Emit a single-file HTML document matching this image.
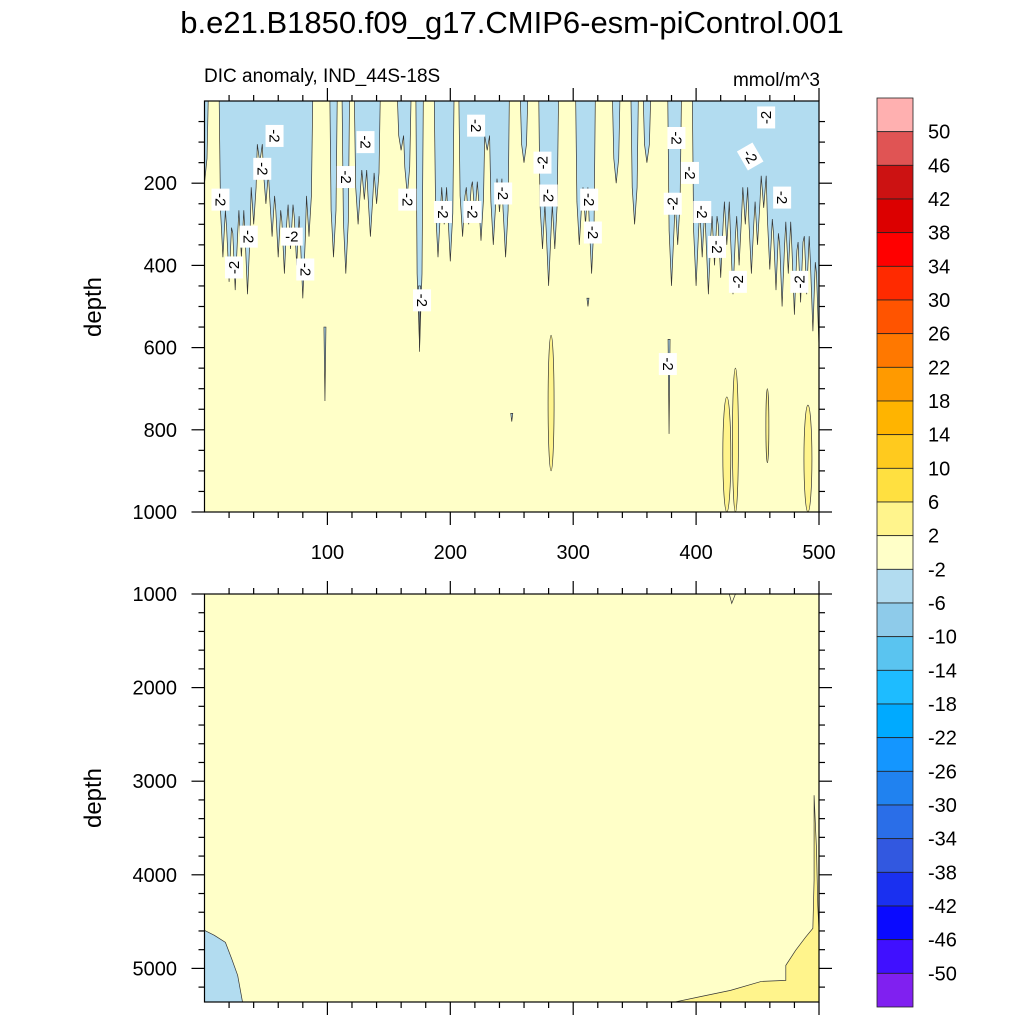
<!DOCTYPE html>
<html><head><meta charset="utf-8"><style>
body{margin:0;background:#fff;}
svg{display:block;font-family:"Liberation Sans",sans-serif;}
</style></head><body>
<svg id="s" width="1024" height="1024" viewBox="0 0 1024 1024" xmlns="http://www.w3.org/2000/svg">
<text x="512" y="33" font-size="31" text-anchor="middle">b.e21.B1850.f09_g17.CMIP6-esm-piControl.001</text>
<text x="204" y="82" font-size="19">DIC anomaly, IND_44S-18S</text>
<text x="820" y="86" font-size="19" text-anchor="end">mmol/m^3</text>
<text x="0" y="0" font-size="24" text-anchor="middle" transform="translate(101,307) rotate(-90)">depth</text>
<text x="0" y="0" font-size="24" text-anchor="middle" transform="translate(101,798) rotate(-90)">depth</text>
<g id="g"></g>
</svg>
<script>
// ---- data ----
const profU = [0,5,10,15,20,25,30,35,40,45,50,55,60,65,70,75,80,85,90,95,100,105,110,115,120,125,130,135,140,145,150,155,160,165,170,175,180,185,190,195,200,205,210,215,220,225,230,235,240,245,250,255,260,265,270,275,280,285,290,295,300,305,310,315,320,325,330,335,340,345,350,355,360,365,370,375,380,385,390,395,400,405,410,415,420,425,430,435,440,445,450,455,460,465,470,475,480,485,490,495,500];
const profDepth = [200,0,0,380,440,460,380,470,300,150,250,330,380,420,360,400,480,330,0,0,0,380,0,420,0,300,240,330,250,0,0,0,120,230,0,600,0,0,380,300,390,0,330,300,280,340,120,350,270,380,0,0,150,0,0,360,450,360,0,0,0,350,300,420,0,0,0,200,0,0,300,0,150,0,0,0,450,350,0,0,450,380,470,400,430,350,470,400,300,420,350,260,410,460,500,420,520,490,470,560,600];
const spikeU = [98,250,378,175,312];
const spikeTop = [550,760,580,450,480];
const spikeBot = [730,780,810,610,500];
const lensU = [282,425,432,458,491];
const lensTop = [570,720,650,700,740];
const lensBot = [900,1000,1000,880,1000];
const lensW = [3,4,3,1.5,4];
const labU = [13,47,57,36,71,24,82,115,131,165,194,177,218,221,243,275,280,313,316,384,395,381,405,417,434,444,457,470,484,377];
const labD = [240,165,85,330,330,405,410,185,100,240,270,485,270,60,225,150,230,240,320,90,175,250,270,355,440,135,40,235,440,640];
const labRot = [90,90,90,90,0,-90,90,90,90,90,90,90,90,90,90,-90,90,90,90,90,90,-90,90,90,-90,60,-90,90,-90,90];
const blU = [0,8,17,22,27,31];
const blD = [4594,4647,4722,4893,5075,5364];
const brU = [381,404,428,453,473,473,481,489,495,496,496,498,499,500];
const brD = [5364,5300,5235,5139,5128,4968,4807,4668,4572,4059,3150,3738,4326,4594];
const xTicks = [100,200,300,400,500];
const yTicksTop = [200,400,600,800,1000];
const yTicksBot = [1000,2000,3000,4000,5000];
const cbLabels = ["50","46","42","38","34","30","26","22","18","14","10","6","2","-2","-6","-10","-14","-18","-22","-26","-30","-34","-38","-42","-46","-50"];
const cbColors = ["#ffb0b0","#e05454","#cc1212","#dc0000","#ff0000","#ff2a00","#ff5400","#ff7800","#ff9a00","#ffb400","#ffca1e","#ffe040","#fff48c","#ffffc8","#b2dcf0","#8ecbea","#5ac4f0","#1ebcff","#00aaff","#1496ff","#2082f0","#2a6ee8","#3258e0","#1a30f0","#0a0aff","#4010ff","#8020f0"];
// ---- axes ----
const NS="http://www.w3.org/2000/svg";
const g=document.getElementById('g');
const X0=204.5,X1=819,T0=101,T1=512,B0=594,B1=1002;
const xs=u=>X0+(X1-X0)*u/500;
const yt=d=>T0+(T1-T0)*d/1000;
const yb=d=>B0+(d-1000)*0.0936;
function el(t,a,p){const e=document.createElementNS(NS,t);for(const k in a)e.setAttribute(k,a[k]);(p||g).appendChild(e);return e;}
const YEL="#ffffc8",BLUE="#b2dcf0",Y2="#fff48c";
// top panel
const topG=el('g',{});


const cp=el('clipPath',{id:'ct'},topG);el('rect',{x:X0,y:T0,width:X1-X0,height:T1-T0},cp);
const tp=el('g',{'clip-path':'url(#ct)'},topG);
const bgT=el('rect',{x:X0,y:T0,width:X1-X0,height:T1-T0,fill:YEL},tp);


let d='M'+xs(0)+','+yt(0);
profU.forEach((u,i)=>{const dv=profDepth[i];
 d+=' L'+xs(u-2).toFixed(1)+','+yt(dv*0.7).toFixed(1);
 d+=' L'+xs(u).toFixed(1)+','+yt(dv).toFixed(1);
 d+=' L'+xs(u+2).toFixed(1)+','+yt(dv*0.7).toFixed(1);});
d+=' L'+xs(500)+','+yt(0)+' Z';
const bp=el('path',{d:d,fill:BLUE,stroke:'#333','stroke-width':0.7},tp);


spikeU.forEach((u,i)=>{
 const p=el('path',{d:`M${xs(u)-1},${yt(spikeTop[i])} L${xs(u)},${yt(spikeBot[i])} L${xs(u)+1},${yt(spikeTop[i])}Z`,fill:BLUE,stroke:'#333','stroke-width':0.7},tp);
 
 
});
lensU.forEach((u,i)=>{
 const e=el('ellipse',{cx:xs(u),cy:(yt(lensTop[i])+yt(lensBot[i]))/2,rx:lensW[i],ry:(yt(lensBot[i])-yt(lensTop[i]))/2,fill:Y2,stroke:'#333','stroke-width':0.7},tp);
 
 
});
labU.forEach((u,i)=>{
 const lg=el('g',{transform:`translate(${xs(u)},${yt(labD[i])}) rotate(${labRot[i]})`},tp);
 
 
 el('rect',{x:-11,y:-9,width:22,height:18,fill:'#fff'},lg);
 const t=el('text',{x:0,y:5,'font-size':15,'text-anchor':'middle'},lg);t.textContent='-2';
});
el('rect',{x:X0,y:T0,width:X1-X0,height:T1-T0,fill:'none',stroke:'#000','stroke-width':1.2},topG);
// bottom panel
const botG=el('g',{});


const cp2=el('clipPath',{id:'cb'},botG);el('rect',{x:X0,y:B0,width:X1-X0,height:B1-B0},cp2);
const bpg=el('g',{'clip-path':'url(#cb)'},botG);
el('rect',{x:X0,y:B0,width:X1-X0,height:B1-B0,fill:YEL},bpg);
let d2='M'+xs(0)+','+yb(5364);blU.forEach((u,i)=>{d2+=' L'+xs(u)+','+yb(blD[i]);});d2+='Z';
const blp=el('path',{d:d2,fill:BLUE,stroke:'#333','stroke-width':0.7},bpg);


let d3='M'+xs(500)+','+yb(5364);brU.forEach((u,i)=>{d3+=' L'+xs(u)+','+yb(brD[i]);});d3+='Z';
const brp=el('path',{d:d3,fill:Y2,stroke:'#333','stroke-width':0.7},bpg);


el('path',{d:`M${xs(427)},${B0} L${xs(429)},${yb(1100)} L${xs(432)},${B0}`,fill:'none',stroke:'#333','stroke-width':0.7},bpg);
el('rect',{x:X0,y:B0,width:X1-X0,height:B1-B0,fill:'none',stroke:'#000','stroke-width':1.2},botG);
// ticks
function tick(x1,y1,x2,y2){el('line',{x1:x1,y1:y1,x2:x2,y2:y2,stroke:'#000','stroke-width':1.2});}
for(let u=20;u<=500;u+=20){const big=u%100==0,L=big?13:6,x=xs(u);
 tick(x,T0,x,T0-L);tick(x,T1,x,T1+L);tick(x,B0,x,B0-L);tick(x,B1,x,B1+L);}
for(let v=50;v<=1000;v+=50){const big=v%200==0,L=big?13:6,y=yt(v);tick(X0,y,X0-L,y);tick(X1,y,X1+L,y);}
for(let v=1000;v<=5300;v+=200){const big=v%1000==0,L=big?13:6,y=yb(v);tick(X0,y,X0-L,y);tick(X1,y,X1+L,y);}
xTicks.forEach(v=>{const t=el('text',{x:xs(v),y:559,'font-size':20,'text-anchor':'middle'});t.textContent=v;
 
 });
yTicksTop.forEach(v=>{const t=el('text',{x:177,y:yt(v)+7,'font-size':20,'text-anchor':'end'});t.textContent=v;
 
 });
yTicksBot.forEach(v=>{const t=el('text',{x:177,y:yb(v)+7,'font-size':20,'text-anchor':'end'});t.textContent=v;
 
 });
// colorbar
const cbG=el('g',{});


const CB0=98,CB1=1007,bh=(CB1-CB0)/cbColors.length;
cbColors.forEach((c,i)=>{const r=el('rect',{x:877,y:CB0+i*bh,width:36,height:bh,fill:c,stroke:'#222','stroke-width':0.8},cbG);
 
 });
cbLabels.forEach((l,i)=>{const t=el('text',{x:928,y:CB0+(i+1)*bh+7,'font-size':20},cbG);t.textContent=l;
 
 });
</script>
</body></html>
